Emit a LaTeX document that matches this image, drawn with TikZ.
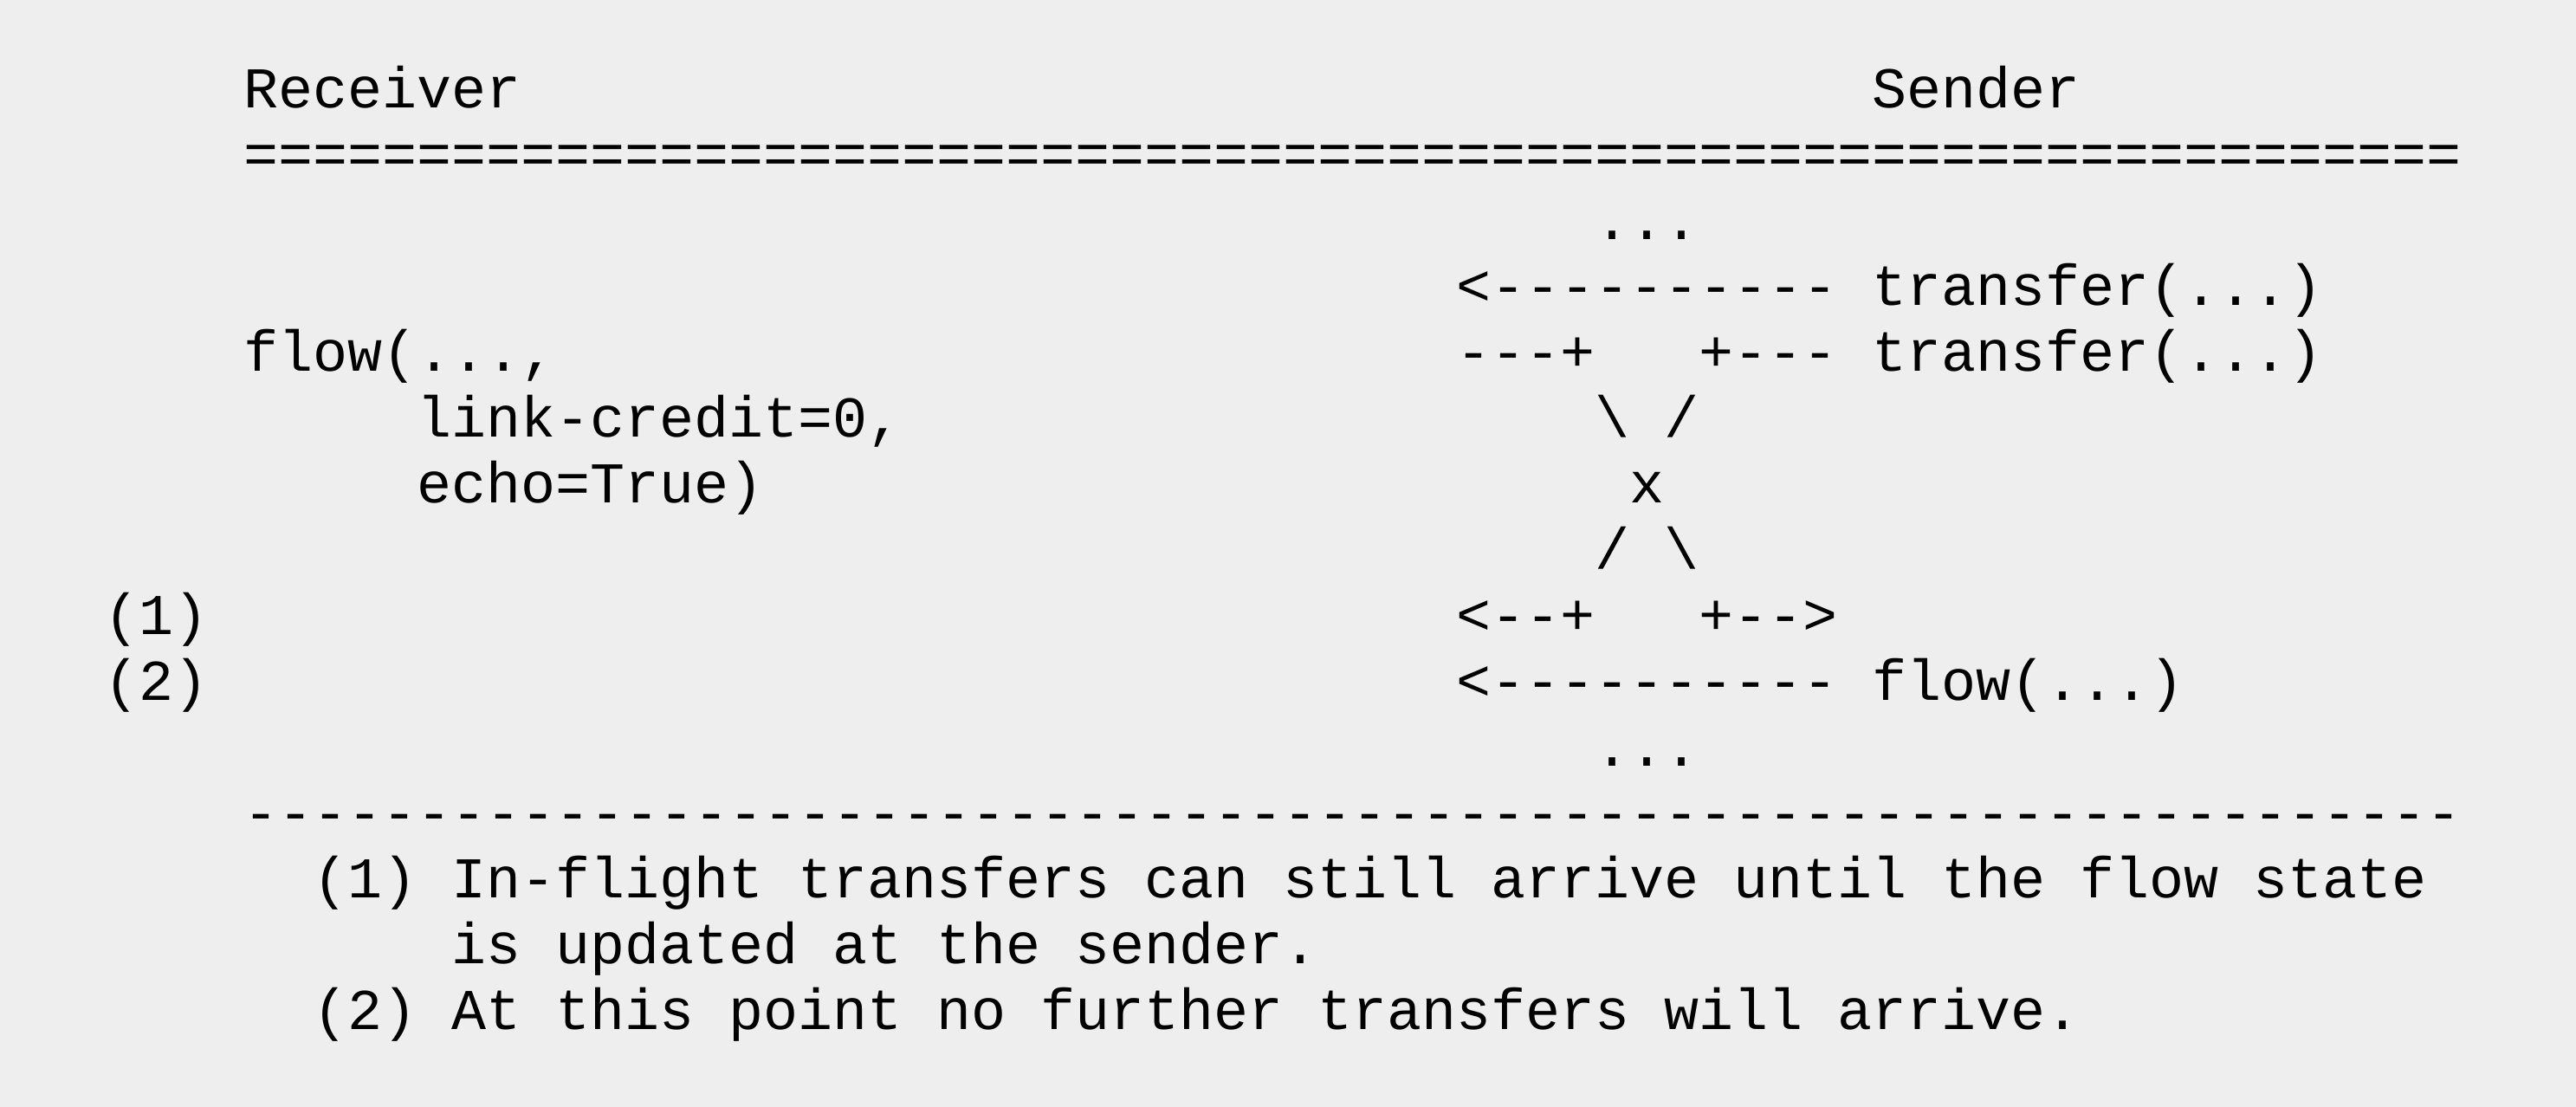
\documentclass[tikz,border=0pt]{standalone}
\usepackage{fontspec}
\newfontfamily\asciifont{Liberation Mono}
\definecolor{paper}{HTML}{EEEEEE}
\tikzset{ascii/.style={font=\asciifont\frenchspacing,anchor=base west,inner sep=0pt,outer sep=0pt}}
\begin{document}
\begin{tikzpicture}[x=6pt,y=-11.4pt,every node/.style={ascii}]
	\fill[paper](-3.025,-1.6355)rectangle(71.325,15.18);
	\useasboundingbox(-3.025,-1.6355)rectangle(71.325,15.18);
	% header
	\draw(4,0)node(recv){Receiver};
	\draw(51,0)node(send){Sender};
	\draw(4,1)node(toprule){================================================================};
	% sender side
	\draw(43,2)node(dotsa){...};
	\draw(39,3)node(xfera){<---------- transfer(...)};
	\draw(39,4)node(xferb){---+};
	\draw(46,4)node(xferc){+--- transfer(...)};
	\draw(43,5)node(crossa){\textbackslash};
	\draw(45,5)node(crossb){/};
	\draw(44,6)node(crossx){x};
	\draw(43,7)node(crossc){/};
	\draw(45,7)node(crossd){\textbackslash};
	\draw(39,8)node(backa){<--+};
	\draw(46,8)node(backb){+-->};
	\draw(39,9)node(flowb){<---------- flow(...)};
	\draw(43,10)node(dotsb){...};
	% receiver side
	\draw(4,4)node(flowa){flow(...,};
	\draw(9,5)node(credit){link-credit=0,};
	\draw(9,6)node(echo){echo=True)};
	\draw(0,8)node(marka){(1)};
	\draw(0,9)node(markb){(2)};
	% notes
	\draw(4,11)node(botrule){----------------------------------------------------------------};
	\draw(6,12)node(notea){(1) In-flight transfers can still arrive until the flow state};
	\draw(10,13)node(noteb){is updated at the sender.};
	\draw(6,14)node(notec){(2) At this point no further transfers will arrive.};
\end{tikzpicture}
\end{document}
